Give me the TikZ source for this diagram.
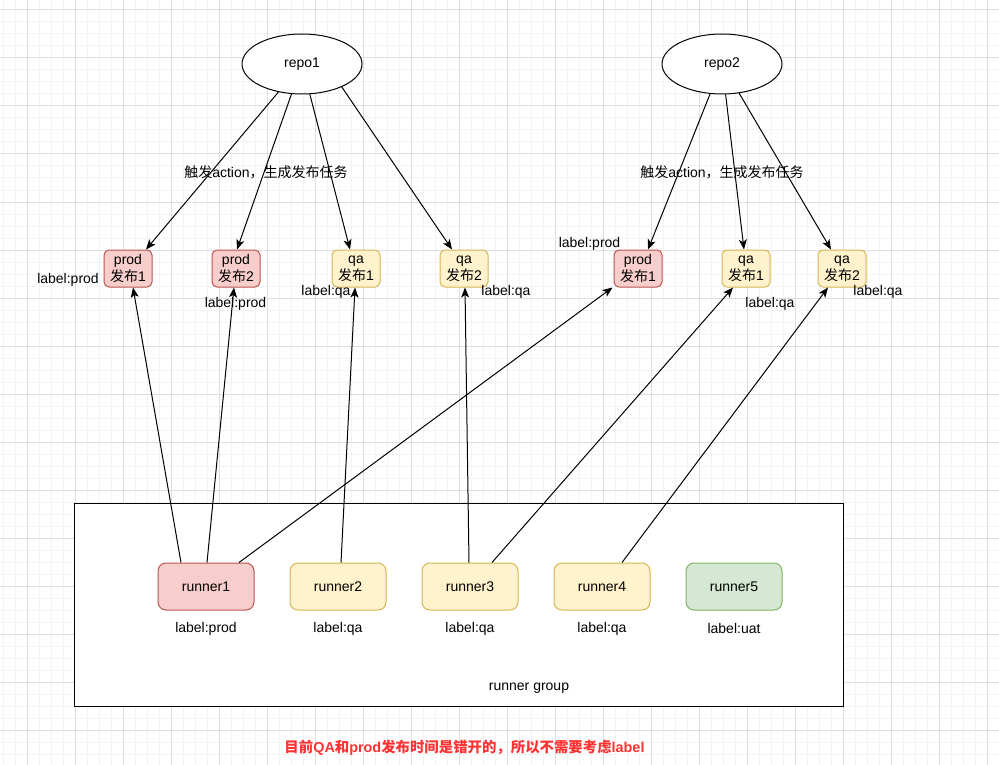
\documentclass[tikz,border=0pt]{standalone}
\usepackage{fontspec}
\setmainfont{Liberation Sans}
\newfontfamily\cjk{Noto Sans CJK SC}
\usetikzlibrary{arrows.meta,shapes.geometric}
\definecolor{prodfill}{HTML}{F8CECC}
\definecolor{prodline}{HTML}{B85450}
\definecolor{qafill}{HTML}{FFF2CC}
\definecolor{qaline}{HTML}{D6B656}
\definecolor{uatfill}{HTML}{D5E8D4}
\definecolor{uatline}{HTML}{82B366}
\definecolor{gridmajor}{HTML}{DEDEDE}
\definecolor{gridminor}{HTML}{F3F3F3}
\definecolor{notered}{HTML}{FF3333}
\newcommand\zh[1]{{\cjk #1}}
\tikzset{
  txt/.style={font=\fontsize{14}{17}\selectfont, inner sep=0pt},
  repo/.style={ellipse, draw, line width=1pt, fill=white, minimum width=120pt, minimum height=60pt, inner sep=0pt, font=\fontsize{14}{17}\selectfont},
  task/.style={draw, rounded corners=5pt, line width=1pt, minimum width=48pt, minimum height=37pt, inner sep=0pt, align=center, font=\fontsize{14}{17}\selectfont},
  runnerbox/.style={draw, rounded corners=8pt, line width=1pt, minimum width=96pt, minimum height=47pt, inner sep=0pt, font=\fontsize{14}{17}\selectfont},
  prodc/.style={fill=prodfill, draw=prodline},
  qac/.style={fill=qafill, draw=qaline},
  uatc/.style={fill=uatfill, draw=uatline},
  arr/.style={-{Stealth[length=10pt,width=8pt,inset=2.5pt]}, line width=1pt},
  gminor/.style={draw=gridminor, line width=1pt},
  gmajor/.style={draw=gridmajor, line width=1pt}
}
\begin{document}
\begin{tikzpicture}[x=1pt,y=-1pt]
\useasboundingbox (0,0) rectangle (999,765);
\fill[white] (0,0) rectangle (999,765);
% grid
\foreach \gx in {3,15,...,999} \draw[gminor] (\gx,0) -- (\gx,765);
\foreach \gy in {10,22,...,765} \draw[gminor] (0,\gy) -- (999,\gy);
\foreach \gx in {27,75,...,999} \draw[gmajor] (\gx,0) -- (\gx,765);
\foreach \gy in {10,58,...,765} \draw[gmajor] (0,\gy) -- (999,\gy);

% runner group
\node[draw, fill=white, line width=1pt, minimum width=769pt, minimum height=203pt, inner sep=0pt] (grp) at (458.5,604.5) {};
\node[txt] (grplbl) at (529,688) {runner group};

% repos
\node[repo] (repo1) at (302,64) {repo1};
\node[repo] (repo2) at (722,64) {repo2};

% tasks repo1
\node[task,prodc] (a1) at (128,268.5) {prod\\\zh{发布}1};
\node[task,prodc] (a2) at (236,268.5) {prod\\\zh{发布}2};
\node[task,qac] (a3) at (356,268.5) {qa\\\zh{发布}1};
\node[task,qac] (a4) at (464,268.5) {qa\\\zh{发布}2};
% tasks repo2
\node[task,prodc] (b1) at (638,268.5) {prod\\\zh{发布}1};
\node[task,qac] (b2) at (746,268.5) {qa\\\zh{发布}1};
\node[task,qac] (b3) at (842,268.5) {qa\\\zh{发布}2};

% task labels
\node[txt] (la1) at (68,280) {label:prod};
\node[txt] (la2) at (235.5,304) {label:prod};
\node[txt] (la3) at (326,292) {label:qa};
\node[txt] (la4) at (506,292) {label:qa};
\node[txt] (lb1) at (589.5,244) {label:prod};
\node[txt] (lb2) at (770,304) {label:qa};
\node[txt] (lb3) at (878,292) {label:qa};

% runners
\node[runnerbox,prodc] (r1) at (206,586.5) {runner1};
\node[runnerbox,qac] (r2) at (338,586.5) {runner2};
\node[runnerbox,qac] (r3) at (470,586.5) {runner3};
\node[runnerbox,qac] (r4) at (602,586.5) {runner4};
\node[runnerbox,uatc] (r5) at (734,586.5) {runner5};
\node[txt] (lr1) at (206,628.5) {label:prod};
\node[txt] (lr2) at (338,628.5) {label:qa};
\node[txt] (lr3) at (470,628.5) {label:qa};
\node[txt] (lr4) at (602,628.5) {label:qa};
\node[txt] (lr5) at (734,628.5) {label:uat};

% repo arrows
\draw[arr] (repo1) -- ([xshift=18pt]a1.north);
\draw[arr] (repo1) -- ([xshift=1pt]a2.north);
\draw[arr] (repo1) -- ([xshift=-6pt]a3.north);
\draw[arr] (repo1.330) -- ([xshift=-12pt]a4.north);
\draw[arr] (repo2) -- ([xshift=10pt]b1.north);
\draw[arr] (repo2) -- ([xshift=-2pt]b2.north);
\draw[arr] (repo2) -- ([xshift=-11pt]b3.north);

% edge labels
\node[txt] (t1) at (266,172) {\zh{触发}action\zh{，生成发布任务}};
\node[txt] (t2) at (722,172) {\zh{触发}action\zh{，生成发布任务}};

% runner arrows
\draw[arr] ([xshift=-25pt]r1.north) -- ([xshift=5pt]a1.south);
\draw[arr] ([xshift=1pt]r1.north) -- ([xshift=-2pt]a2.south);
\draw[arr] ([xshift=33pt]r1.north) -- ([xshift=-1pt]b1.south west);
\draw[arr] ([xshift=3pt]r2.north) -- ([xshift=-1pt]a3.south);
\draw[arr] ([xshift=-1pt]r3.north) -- ([xshift=1pt]a4.south);
\draw[arr] ([xshift=22pt]r3.north) -- ([xshift=-13pt]b2.south);
\draw[arr] ([xshift=20pt]r4.north) -- ([xshift=-14pt]b3.south);

% note
\node[txt, text=notered, font=\fontsize{14.4}{17}\selectfont\bfseries] (note) at (464.5,748) {\zh{目前}QA\zh{和}prod\zh{发布时间是错开的，所以不需要考虑}label};
\end{tikzpicture}
\end{document}
